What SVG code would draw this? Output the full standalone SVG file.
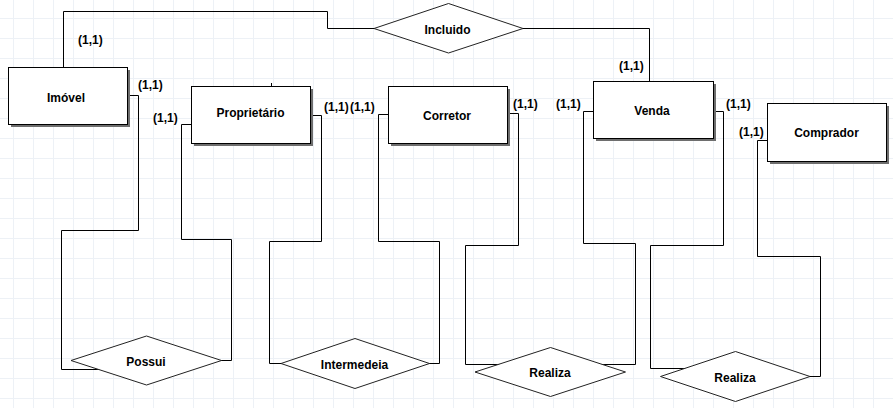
<svg xmlns="http://www.w3.org/2000/svg" width="893" height="408" viewBox="0 0 893 408">
<defs>
<pattern id="grid" x="13" y="18" width="20" height="20" patternUnits="userSpaceOnUse">
<path d="M0,0.5 H20 M0.5,0 V20" stroke="#edf1f6" stroke-width="1" fill="none"/>
</pattern>
</defs>
<style>
.ent{fill:#fff;stroke:#000;stroke-width:1}
.sh{fill:#6e6e6e}
.rel{fill:#fff;stroke:#222;stroke-width:1}
.con{fill:none;stroke:#000;stroke-width:1}
.t{font-family:"Liberation Sans",Arial,sans-serif;font-weight:bold;font-size:12px;fill:#000}
.c{text-anchor:middle}
</style>
<rect x="0" y="0" width="893" height="408" fill="#fff"/>
<rect x="0" y="0" width="893" height="408" fill="url(#grid)"/>

<g id="connectors">
<path class="con" d="M63.5,67 V11.5 H327.5 V28.5 H374"/>
<path class="con" d="M523,28.5 H649.5 V81"/>
<path class="con" d="M127,95.5 H138.5 V230.5 H61.5 V369.5 H100"/>
<path class="con" d="M191,124.5 H181.5 V239.5 H231.5 V360.5 H221"/>
<path class="con" d="M310,115.5 H321.5 V241.5 H269.5 V363.5 H281"/>
<path class="con" d="M388,114.5 H378.5 V241.5 H439.5 V363.5 H429"/>
<path class="con" d="M507,113.5 H518.5 V245.5 H465.5 V364.5 H550"/>
<path class="con" d="M593,111.5 H583.5 V243.5 H635.5 V364.5 H550"/>
<path class="con" d="M713,111.5 H723.5 V245.5 H650.5 V368.5 H735"/>
<path class="con" d="M767,140.5 H757.5 V256.5 H820.5 V376.5 H810"/>
<path class="con" d="M271.5,83 V86"/>
</g>

<g id="imovel">
<rect class="sh" x="11" y="70" width="119" height="57"/>
<rect class="ent" x="8.5" y="67.5" width="119" height="57"/>
<text class="t c" x="66" y="101.5">Imóvel</text>
</g>
<g id="proprietario">
<rect class="sh" x="194" y="89" width="119" height="57"/>
<rect class="ent" x="191.5" y="86.5" width="119" height="57"/>
<text class="t c" x="250.5" y="117">Proprietário</text>
</g>
<g id="corretor">
<rect class="sh" x="391" y="89" width="119" height="57"/>
<rect class="ent" x="388.5" y="86.5" width="119" height="57"/>
<text class="t c" x="447" y="120">Corretor</text>
</g>
<g id="venda">
<rect class="sh" x="596" y="84" width="120" height="57"/>
<rect class="ent" x="593.5" y="81.5" width="120" height="57"/>
<text class="t c" x="652" y="115">Venda</text>
</g>
<g id="comprador">
<rect class="sh" x="770" y="106" width="119" height="58"/>
<rect class="ent" x="767.5" y="103.5" width="119" height="58"/>
<text class="t c" x="826.5" y="137">Comprador</text>
</g>

<g id="incluido">
<polygon class="rel" points="374,28.5 448.5,3.5 523,28.5 448.5,53"/>
<text class="t c" x="447.5" y="33.5">Incluido</text>
</g>
<g id="possui">
<polygon class="rel" points="71,360.5 146.5,336 221.5,360.5 146.5,385"/>
<text class="t c" x="146" y="365.5">Possui</text>
</g>
<g id="intermedeia">
<polygon class="rel" points="281,363.5 355,338.5 429.5,363.5 355,388.5"/>
<text class="t c" x="354.5" y="369">Intermedeia</text>
</g>
<g id="realiza1">
<polygon class="rel" points="475,372 550.5,347.5 625.5,372 550.5,396.5"/>
<text class="t c" x="550" y="376.5">Realiza</text>
</g>
<g id="realiza2">
<polygon class="rel" points="660.5,376.5 735.5,351.5 810,376.5 735.5,401.5"/>
<text class="t c" x="735" y="381.5">Realiza</text>
</g>

<g id="cardinalities">
<text class="t" x="78" y="43.5">(1,1)</text>
<text class="t" x="138" y="89">(1,1)</text>
<text class="t" x="153" y="122">(1,1)</text>
<text class="t" x="324" y="111">(1,1)</text>
<text class="t" x="350" y="111">(1,1)</text>
<text class="t" x="513" y="108">(1,1)</text>
<text class="t" x="556" y="108">(1,1)</text>
<text class="t" x="619" y="69.5">(1,1)</text>
<text class="t" x="726" y="107.5">(1,1)</text>
<text class="t" x="739" y="135.5">(1,1)</text>
</g>
</svg>
